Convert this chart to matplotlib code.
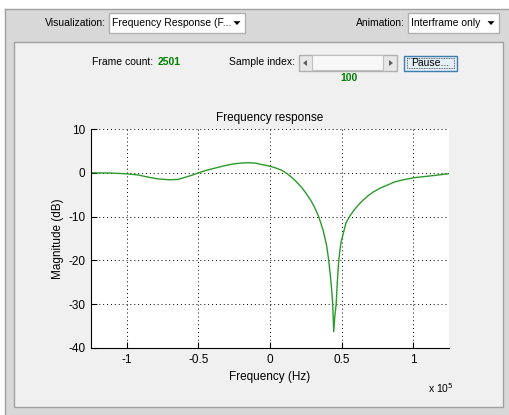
import matplotlib
matplotlib.use('Agg')
import matplotlib.pyplot as plt
from matplotlib.patches import Rectangle, Polygon
from matplotlib.ticker import FuncFormatter, FixedLocator

plt.rcParams['font.family'] = ['Liberation Sans', 'DejaVu Sans']
plt.rcParams['axes.unicode_minus'] = False

# ---- data (frequency in Hz, magnitude in dB) ----
freq_hz = [-125000, -112000, -100000, -92000, -85000, -78000, -70000, -64000,
           -59000, -54000, -50000, -44000, -38000, -32000, -26000, -21000,
           -15000, -10000, -6000, 0, 4000, 8000, 12000, 15000, 18000, 22000,
           25000, 28500, 31000, 34000, 37000, 39500, 41000, 42000, 43000,
           43800, 44500, 45200, 46200, 47000, 48000, 49500, 53000, 55500,
           58500, 61500, 64500, 68300, 72000, 77600, 82000, 87000, 93000,
           101000, 108000, 115000, 125000]
mag_db = [0.0, -0.05, -0.23, -0.5, -1.0, -1.4, -1.6, -1.5,
          -1.0, -0.5, 0.0, 0.6, 1.1, 1.6, 2.0, 2.2,
          2.3, 2.2, 1.9, 1.5, 1.1, 0.6, -0.2, -1.0, -1.9, -3.3,
          -4.6, -6.3, -7.8, -10.0, -13.0, -16.5, -20.0, -23.0, -26.5,
          -30.0, -36.3, -33.0, -30.0, -25.0, -20.0, -16.0, -11.5, -10.0,
          -8.6, -7.4, -6.4, -5.3, -4.4, -3.4, -2.8, -2.1, -1.6,
          -1.1, -0.85, -0.6, -0.2]
x_ticks = [-100000, -50000, 0, 50000, 100000]
x_tick_labels = ['-1', '-0.5', '0', '0.5', '1']
y_ticks = [-40, -30, -20, -10, 0, 10]

W, H = 510, 415
fig = plt.figure(figsize=(W / 100, H / 100), dpi=100, facecolor='white')

# ---- GUI background (pixel coords, origin top-left) ----
bg = fig.add_axes([0, 0, 1, 1], zorder=0)
bg.set_xlim(0, W)
bg.set_ylim(H, 0)
bg.axis('off')

bg.add_patch(Rectangle((5, 9), W - 5, H - 9, fc='#d8d8d8', ec='none'))
bg.plot([5, 5], [9, H], color='#a0a0a0', lw=1)
bg.plot([5, W], [9, 9], color='#a0a0a0', lw=1)
bg.add_patch(Rectangle((14, 42), 489, 365, fc='#f0f0f0', ec='#a0a0a0', lw=1))

def dropdown(x0, x1, y0, y1, label):
    bg.add_patch(Rectangle((x0, y0), x1 - x0, y1 - y0, fc='white', ec='#b0b0b0', lw=1))
    bg.text(x0 + 3, (y0 + y1) / 2, label, fontsize=7.5, va='center', ha='left')
    cx, cy = x1 - 8, (y0 + y1) / 2
    bg.add_patch(Polygon([[cx - 3.5, cy - 1.8], [cx + 3.5, cy - 1.8], [cx, cy + 2]],
                         closed=True, fc='black', ec='none'))

bg.text(106, 23, 'Visualization:', fontsize=7.5, va='center', ha='right')
dropdown(109, 245, 13, 33, 'Frequency Response (F...')
bg.text(405, 23, 'Animation:', fontsize=7.5, va='center', ha='right')
dropdown(408, 499, 13, 33, 'Interframe only')

bg.text(92, 62, 'Frame count:', fontsize=7.5, va='center', ha='left')
bg.text(158, 62, '2501', fontsize=7.5, va='center', ha='left', color='#008000',
        fontweight='bold')
bg.text(295, 62, 'Sample index:', fontsize=7.5, va='center', ha='right')

# slider
bg.add_patch(Rectangle((299, 55), 98, 16, fc='#e8e8e8', ec='#b0b0b0', lw=1))
bg.add_patch(Rectangle((312, 55.5), 71, 15, fc='#f8f8f8', ec='#c0c0c0', lw=0.8))
bg.add_patch(Polygon([[303, 63], [307, 60], [307, 66]], closed=True, fc='#606060', ec='none'))
bg.add_patch(Polygon([[393, 63], [389, 60], [389, 66]], closed=True, fc='#606060', ec='none'))
bg.text(349, 78, '100', fontsize=7.5, va='center', ha='center', color='#008000',
        fontweight='bold')

# pause button
bg.add_patch(Rectangle((404, 56), 53, 15, fc='#e3eef8', ec='#3c7fb1', lw=1))
bg.add_patch(Rectangle((407, 58.5), 47, 10, fc='none', ec='#404040', lw=0.6, ls=(0, (1, 1))))
bg.text(430.5, 63.5, 'Pause...', fontsize=7.5, va='center', ha='center')

# ---- main axes ----
ax_l, ax_r, ax_t, ax_b = 91, 449, 129, 348
ax = fig.add_axes([ax_l / W, (H - ax_b) / H, (ax_r - ax_l) / W, (ax_b - ax_t) / H], zorder=1)
ax.set_facecolor('white')
ax.plot(freq_hz, mag_db, color='#2a9a2a', lw=1.0)
ax.set_xlim(-125000, 125000)
ax.set_ylim(-40, 10)
ax.xaxis.set_major_locator(FixedLocator(x_ticks))
ax.xaxis.set_major_formatter(FuncFormatter(lambda v, p: x_tick_labels[x_ticks.index(int(round(v)))]
                                           if int(round(v)) in x_ticks else ''))
ax.set_yticks(y_ticks)
for s in ['top', 'right']:
    ax.spines[s].set_visible(False)
for s in ['left', 'bottom']:
    ax.spines[s].set_linewidth(0.8)
ax.tick_params(direction='in', length=4, width=0.8, labelsize=8.5, pad=4)
ax.grid(True, color='black', ls=(0, (1, 3)), lw=0.7)
ax.set_title('Frequency response', fontsize=8.5, pad=6)
ax.set_xlabel('Frequency (Hz)', fontsize=8.5, labelpad=4)
ax.set_ylabel('Magnitude (dB)', fontsize=8.5, labelpad=3)

bg.text(428, 388, r'x 10$^{5}$', fontsize=7.5, va='center', ha='left')

fig.savefig('out.png', dpi=100, facecolor='white')
